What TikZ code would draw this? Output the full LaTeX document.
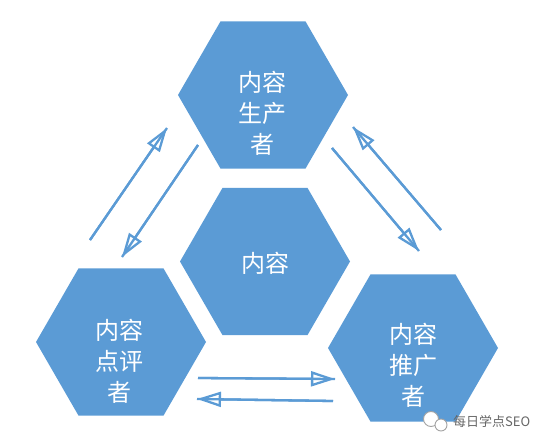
\documentclass[tikz,border=0pt]{standalone}
\usepackage{fontspec}
\newfontfamily\cjk{Noto Sans CJK SC}
\usetikzlibrary{shapes.geometric,arrows.meta}
\definecolor{hexblue}{HTML}{5B9BD5}
\definecolor{wmgray}{HTML}{666666}
\tikzset{
  hexa/.style={regular polygon, regular polygon sides=6, minimum size=170pt, inner sep=0pt, outer sep=0pt, fill=hexblue, draw=none},
  hextext/.style={text=white, font=\cjk\fontsize{24}{31}\selectfont, align=center, inner sep=0pt},
  conn/.style={draw=hexblue, line width=2.3pt},
  connhead/.style={draw=hexblue, line width=2.3pt, -{Triangle[open, length=24pt, width=15pt, line width=2.3pt]}},
  bubble/.style={circle, draw=wmgray!60, fill=white, line width=0.9pt, inner sep=0pt},
}
\begin{document}
\begin{tikzpicture}[x=1pt,y=-1pt]
\useasboundingbox (0,0) rectangle (549,447);
% hexagons
\node[hexa] (top) at (263,95) {};
\node[hexa] (mid) at (265,261.5) {};
\node[hexa] (left) at (121,342) {};
\node[hexa] (right) at (413,348) {};
% texts
\node[hextext] (toptxt) at (262,113) {内容\\生产\\者};
\node[hextext] (midtxt) at (265,263) {内容};
\node[hextext] (lefttxt) at (119,361) {内容\\点评\\者};
\node[hextext] (righttxt) at (413,365) {内容\\推广\\者};
% arrow end points
\coordinate (a1) at (90,240);  \coordinate (a2) at (167,128);
\coordinate (b1) at (198,145); \coordinate (b2) at (122,257);
\coordinate (c1) at (332,148); \coordinate (c2) at (419,251);
\coordinate (d1) at (441,230); \coordinate (d2) at (353,127);
\coordinate (e1) at (198,378); \coordinate (e2) at (335,379);
\coordinate (f1) at (333,401); \coordinate (f2) at (197,399);
\foreach \s/\t in {a1/a2,b1/b2,c1/c2,d1/d2,e1/e2,f1/f2}{
  \draw[conn] (\s) -- (\t);
  \draw[connhead] (\s) -- (\t);
}
% watermark
\node[bubble, minimum size=15pt] (wc1) at (431,419) {};
\node[bubble, minimum size=12pt] (wc2) at (441,425) {};
\node[text=wmgray, font=\cjk\fontsize{13}{15}\selectfont, anchor=west, inner sep=0pt] (wm) at (453,422) {每日学点SEO};
\end{tikzpicture}
\end{document}
